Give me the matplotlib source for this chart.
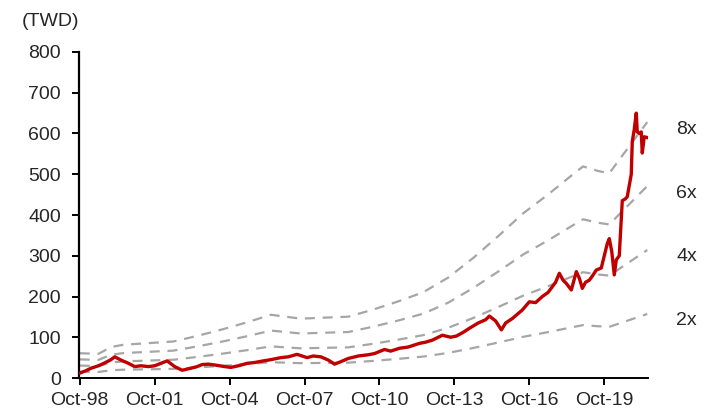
import numpy as np
import matplotlib
matplotlib.use("Agg")
import matplotlib.pyplot as plt

# share price, decimal years
price_years = [1998.75, 1999.0, 1999.2, 1999.5, 1999.75, 2000.0, 2000.15, 2000.4, 2000.7, 2000.95,
               2001.2, 2001.5, 2001.75, 2002.0, 2002.25, 2002.55, 2002.85, 2003.2, 2003.45, 2003.65,
               2003.9, 2004.15, 2004.55, 2004.8, 2005.1, 2005.45, 2005.75, 2006.1, 2006.4, 2006.8,
               2007.1, 2007.45, 2007.85, 2008.1, 2008.4, 2008.7, 2008.95, 2009.2, 2009.5, 2009.9,
               2010.3, 2010.55, 2010.95, 2011.2, 2011.55, 2011.9, 2012.35, 2012.6, 2012.87, 2013.27,
               2013.6, 2013.83, 2014.1, 2014.35, 2014.7, 2015.0, 2015.15, 2015.4, 2015.63, 2015.8,
               2016.07, 2016.47, 2016.75, 2017.0, 2017.27, 2017.5, 2017.67, 2017.8, 2017.95, 2018.1,
               2018.23, 2018.43, 2018.63, 2018.75, 2018.87, 2019.0, 2019.15, 2019.27, 2019.43, 2019.63,
               2019.75, 2019.87, 2019.95, 2020.05, 2020.15, 2020.23, 2020.35, 2020.47, 2020.6, 2020.67,
               2020.83, 2020.87, 2020.95, 2021.03, 2021.07, 2021.15, 2021.23, 2021.27, 2021.35, 2021.47]
price = [12, 18, 24, 30, 37, 45, 52, 44, 36, 28,
         30, 28, 30, 36, 42, 28, 19, 24, 28, 33,
         34, 32, 28, 26, 30, 36, 38, 42, 45, 50,
         52, 58, 50, 54, 52, 44, 34, 40, 48, 54,
         57, 60, 70, 66, 73, 76, 85, 88, 93, 105,
         100, 103, 112, 122, 135, 143, 152, 140, 118, 135,
         146, 167, 187, 185, 200, 210, 224, 235, 257, 240,
         232, 216, 261, 245, 220, 235, 240, 250, 265, 270,
         300, 330, 342, 310, 253, 290, 300, 435, 440, 445,
         500, 580, 610, 650, 604, 600, 604, 552, 592, 590]

# trailing EPS used for the P/E bands
eps_years = [1998.75, 1999.5, 2000.0, 2000.5, 2001.5, 2002.5, 2003.5, 2004.5, 2005.5, 2006.4,
             2007.0, 2007.6, 2008.5, 2009.5, 2010.5, 2011.5, 2012.5, 2013.5, 2014.5, 2015.5,
             2016.5, 2017.5, 2018.5, 2018.9, 2019.5, 2019.95, 2020.5, 2021.47]
eps = [7.6, 7.4, 9.5, 10.2, 10.7, 11.2, 13.0, 15.0, 17.2, 19.4,
       18.8, 18.2, 18.5, 18.8, 21.0, 23.5, 26.3, 30.8, 36.8, 43.5,
       50.5, 56.3, 62.5, 64.9, 63.5, 62.8, 68.5, 78.5]
multiples = [2, 4, 6, 8]

tick_years = [1998.75, 2001.75, 2004.75, 2007.75, 2010.75, 2013.75, 2016.75, 2019.75]
tick_labels = ["Oct-98", "Oct-01", "Oct-04", "Oct-07", "Oct-10", "Oct-13", "Oct-16", "Oct-19"]

plt.rcParams['font.family'] = ['Liberation Sans', 'DejaVu Sans']
txt = '#262626'
fs = 14

fig = plt.figure(figsize=(7.15, 4.15), dpi=100)
ax = fig.add_axes([79 / 715, 1 - 378 / 415, (648 - 79) / 715, (378 - 52) / 415])

eps_arr = np.array(eps)
for m in multiples:
    band = eps_arr * m
    ax.plot(eps_years, band, color='#A6A6A6', lw=1.6, dashes=(4.5, 3.5), zorder=2)
    ax.annotate(f"{m}x", xy=(eps_years[-1], band[-1]), xytext=(21, -5),
                textcoords='offset points', va='center', ha='left',
                fontsize=fs, color=txt, annotation_clip=False)

ax.plot(price_years, price, color='#C00000', lw=2.4, zorder=3)

ax.set_xlim(1998.72, 2021.5)
ax.set_ylim(0, 800)
ax.set_yticks(range(0, 801, 100))
ax.set_xticks(tick_years)
ax.set_xticklabels(tick_labels)

for s in ['top', 'right']:
    ax.spines[s].set_visible(False)
ax.spines['left'].set_linewidth(1.6)
ax.spines['bottom'].set_linewidth(1.4)
ax.tick_params(axis='both', direction='out', length=5, width=1.4,
               labelsize=fs, labelcolor=txt)
ax.tick_params(axis='y', pad=8)
ax.tick_params(axis='x', pad=5)

fig.text(22 / 715, 1 - 22 / 415, "(TWD)", fontsize=fs, color=txt, va='center', ha='left')

fig.savefig("out.png", dpi=100)
